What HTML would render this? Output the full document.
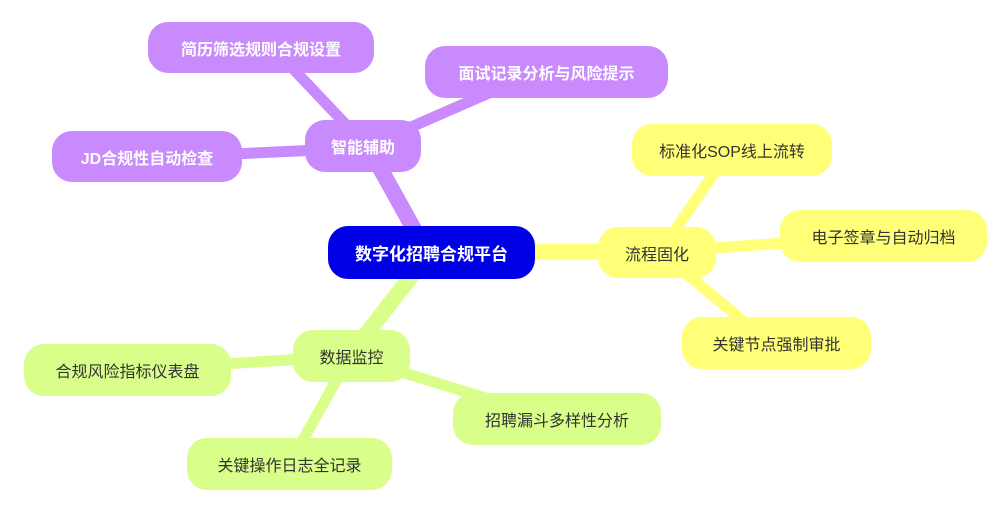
<!DOCTYPE html>
<html><head><meta charset="utf-8"><style>
body{margin:0;width:1006px;height:506px;background:#fff;position:relative;overflow:hidden;font-family:"Liberation Sans","Noto Sans CJK SC",sans-serif}
.n{position:absolute;display:flex;align-items:center;justify-content:center;border-radius:20px;font-size:16px;box-sizing:border-box;white-space:nowrap}
.p{background:#c88afc;color:#fff;font-weight:bold}
.y{background:#ffff78;color:#333}
.g{background:#d9ff8a;color:#333}
.r{background:#0000e6;color:#fff;font-weight:bold;font-size:17px}
svg{position:absolute;left:0;top:0}
</style></head><body>
<svg width="1006" height="506">
<g stroke-linecap="round">
<line x1="420" y1="240" x2="370" y2="150" stroke="#c88afc" stroke-width="16"/>
<line x1="370" y1="150" x2="280" y2="55" stroke="#c88afc" stroke-width="11"/>
<line x1="370" y1="145" x2="530" y2="75" stroke="#c88afc" stroke-width="11"/>
<line x1="360" y1="148" x2="150" y2="158" stroke="#c88afc" stroke-width="11"/>
<line x1="500" y1="252" x2="650" y2="252" stroke="#ffff78" stroke-width="16"/>
<line x1="660" y1="252" x2="730" y2="150" stroke="#ffff78" stroke-width="11"/>
<line x1="660" y1="252" x2="880" y2="236" stroke="#ffff78" stroke-width="11"/>
<line x1="660" y1="252" x2="770" y2="343" stroke="#ffff78" stroke-width="11"/>
<line x1="420" y1="265" x2="350" y2="355" stroke="#d9ff8a" stroke-width="16"/>
<line x1="350" y1="356" x2="130" y2="370" stroke="#d9ff8a" stroke-width="11"/>
<line x1="350" y1="356" x2="550" y2="418" stroke="#d9ff8a" stroke-width="11"/>
<line x1="350" y1="356" x2="290" y2="463" stroke="#d9ff8a" stroke-width="11"/>
</g></svg>
<div class="n r" style="left:328px;top:226px;width:207px;height:53px">数字化招聘合规平台</div>
<div class="n p" style="left:305px;top:120px;width:116px;height:52px">智能辅助</div>
<div class="n p" style="left:148px;top:22px;width:226px;height:51px">简历筛选规则合规设置</div>
<div class="n p" style="left:425px;top:46px;width:243px;height:52px">面试记录分析与风险提示</div>
<div class="n p" style="left:52px;top:131px;width:190px;height:51px">JD合规性自动检查</div>
<div class="n y" style="left:598px;top:227px;width:118px;height:51px">流程固化</div>
<div class="n y" style="left:632px;top:124px;width:200px;height:52px">标准化SOP线上流转</div>
<div class="n y" style="left:780px;top:210px;width:207px;height:52px">电子签章与自动归档</div>
<div class="n y" style="left:682px;top:317px;width:189px;height:52px">关键节点强制审批</div>
<div class="n g" style="left:293px;top:330px;width:117px;height:52px">数据监控</div>
<div class="n g" style="left:24px;top:344px;width:207px;height:52px">合规风险指标仪表盘</div>
<div class="n g" style="left:453px;top:393px;width:208px;height:52px">招聘漏斗多样性分析</div>
<div class="n g" style="left:187px;top:438px;width:205px;height:52px">关键操作日志全记录</div>
</body></html>
